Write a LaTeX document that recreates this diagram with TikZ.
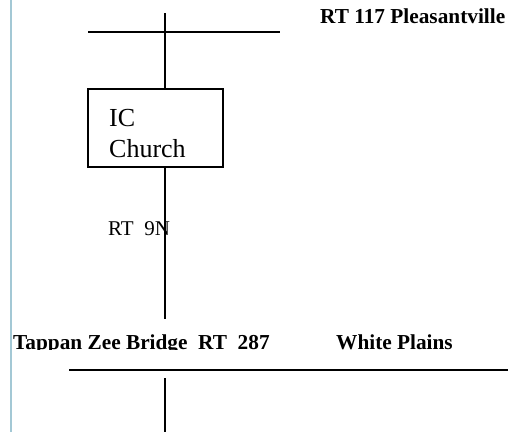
\documentclass[tikz,border=0pt]{standalone}
\usepackage{fontspec}
\setmainfont{Liberation Serif}
\definecolor{margin}{HTML}{A3C8D5}
\begin{document}
\begin{tikzpicture}[x=1pt,y=-1pt,
  road/.style={line width=1.9pt, black},
  boldlabel/.style={anchor=base west, inner sep=0pt, font=\fontsize{21.3}{25}\selectfont\bfseries},
  plainlabel/.style={anchor=base west, inner sep=0pt, font=\fontsize{21}{25}\selectfont},
  boxlabel/.style={anchor=base west, inner sep=0pt, font=\fontsize{26}{31}\selectfont},
  placebox/.style={draw, line width=1.9pt, minimum width=135pt, minimum height=78pt, inner sep=0pt}]
\useasboundingbox (0,0) rectangle (508,432);
% left margin rule
\draw[margin, line width=2pt] (11,0) -- (11,432);
% church box
\node[placebox] (church) at (155.5,128) {};
\node[boxlabel] (ic) at (109,126) {IC};
\node[boxlabel] (churchtxt) at (109,157) {Church};
% coordinates
\coordinate (toptop) at (165,13);
\coordinate (hl) at (88,32);
\coordinate (hr) at (280,32);
\coordinate (midend) at (165,319);
\coordinate (ll) at (69,370);
\coordinate (lr) at (508,370);
\coordinate (lowtop) at (165,378);
\coordinate (lowbot) at (165,432);
% roads
\draw[road] (toptop) -- (toptop |- church.north);
\draw[road] (hl) -- (hr);
\draw[road] (toptop |- church.south) -- (midend);
\draw[road] (ll) -- (lr);
\draw[road] (lowtop) -- (lowbot);
% labels
\node[boldlabel] (pleasant) at (320,23) {RT 117 Pleasantville};
\node[plainlabel] (rt9n) at (108,235) {RT\ \ 9N};
\begin{scope}
\clip (0,300) rectangle (508,349.5);
\node[boldlabel] (tappan) at (13,349) {Tappan Zee Bridge\ \ RT\ \ 287};
\node[boldlabel] (white) at (336,349) {White Plains};
\end{scope}
\end{tikzpicture}
\end{document}
